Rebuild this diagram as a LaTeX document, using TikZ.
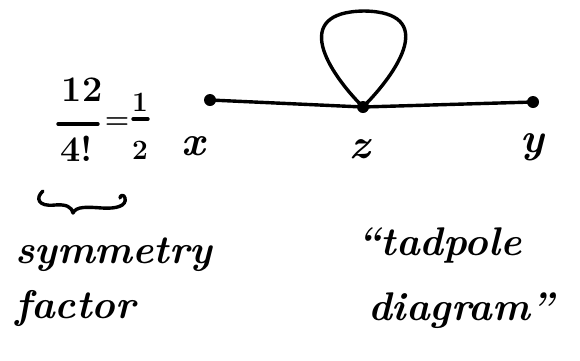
\documentclass[tikz,border=0pt]{standalone}
\begin{document}
\begin{tikzpicture}[x=1pt,y=-1pt,
  ink/.style={line width=3.4pt,line cap=round,line join=round},
  dotv/.style={circle,fill=black,inner sep=0pt,minimum size=12pt},
  hand/.style={font=\fontsize{40}{44}\selectfont\bfseries\itshape,inner sep=0pt},
  lab/.style={font=\fontsize{42}{44}\selectfont\bfseries\itshape,inner sep=0pt,anchor=base},
  num/.style={font=\fontsize{36}{38}\selectfont\bfseries,inner sep=0pt},
  snum/.style={font=\fontsize{28}{30}\selectfont\bfseries,inner sep=0pt}]
\useasboundingbox (0,0) rectangle (580,360);
% vertices
\node[dotv] (vx) at (210,100) {};
\node[dotv] (vz) at (363,107) {};
\node[dotv] (vy) at (533,102) {};
\draw[ink] (vx.center) -- (vz.center) -- (vy.center);
\draw[ink] (vz.center) .. controls (328,72) and (290,12) .. (364,11)
  .. controls (438,12) and (398,72) .. (vz.center);
% labels
\node[lab] (lx) at (193,155) {x};
\node[lab] (lz) at (360,158) {z};
\node[lab] (ly) at (532,152) {y};
% symmetry factor fraction
\node[num] (n12) at (82,90) {12};
\node[num] (n4) at (77,149) {4!};
\coordinate (b1a) at (58,124);
\coordinate (b1b) at (98,124);
\draw[ink] (b1a) -- (b1b);
\node[snum] (eq) at (117,123) {=};
\node[snum] (n1) at (140,102) {1};
\node[snum] (n2) at (140,150) {2};
\coordinate (b2a) at (133,119);
\coordinate (b2b) at (148,119);
\draw[ink] (b2a) -- (b2b);
% hand-drawn brace
\draw[ink] (43,191) .. controls (35,198) and (38,207) .. (55,205)
  .. controls (66,204) and (72,207) .. (73,213)
  .. controls (76,206) and (88,207) .. (102,208)
  .. controls (116,209) and (127,206) .. (125,198)
  .. controls (124,194) and (120,195) .. (120,198);
% texts
\node[hand,anchor=base west] (sym) at (15,263) {symmetry};
\node[hand,anchor=base west] (fac) at (15,318) {factor};
\node[hand,anchor=base west] (tad) at (357,255) {``tadpole};
\node[hand,anchor=base west] (dia) at (368,320) {diagram''};
\end{tikzpicture}
\end{document}
